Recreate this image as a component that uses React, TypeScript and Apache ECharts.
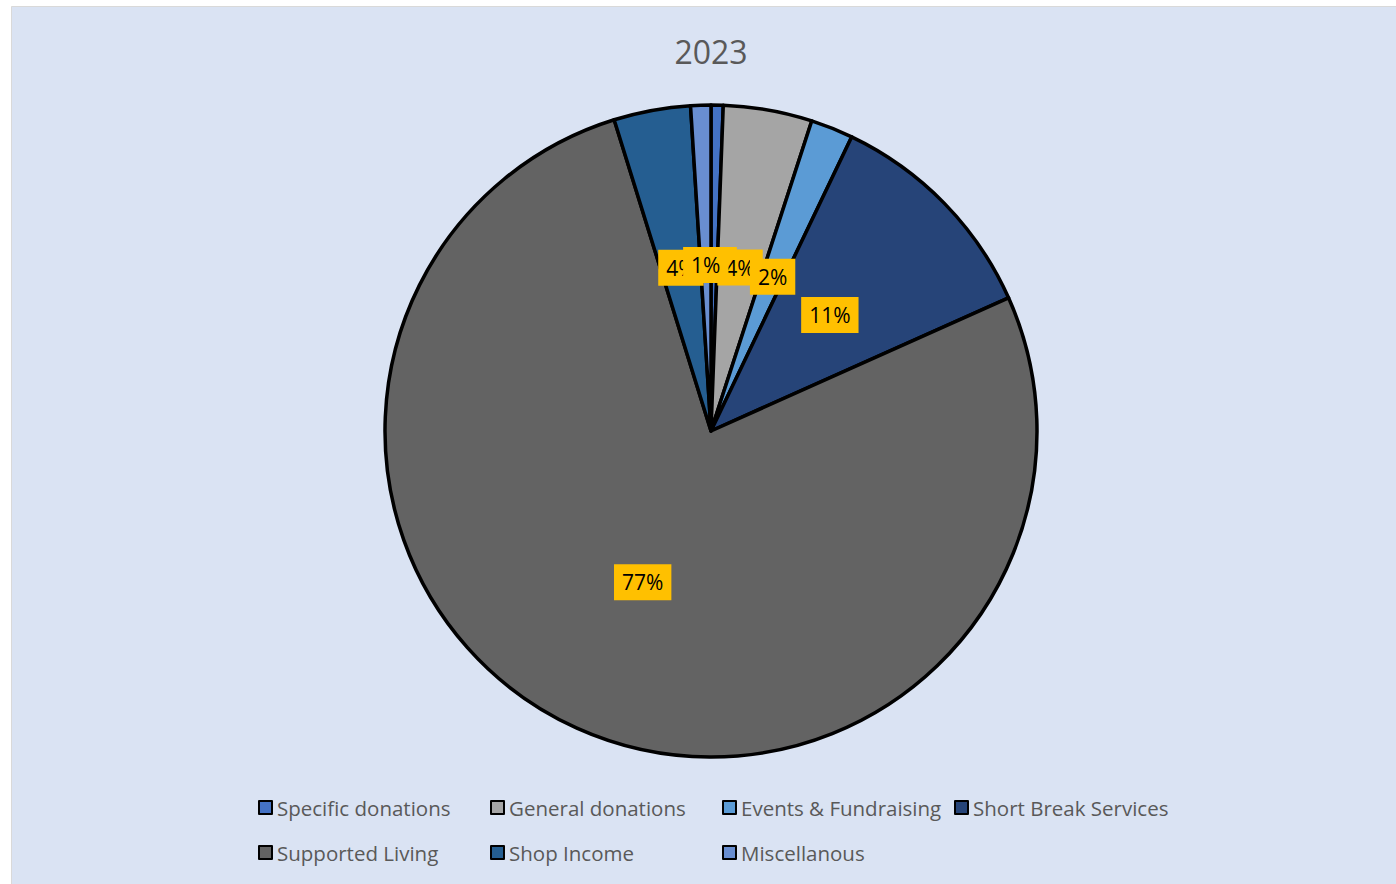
import React, { useEffect, useRef } from "react";
import * as echarts from "echarts";

const categories = [
  "Specific donations",
  "General donations",
  "Events & Fundraising",
  "Short Break Services",
  "Supported Living",
  "Shop Income",
  "Miscellanous",
];
const values = [0.6, 4.4, 2.1, 11.2, 76.9, 3.8, 1.0];
const colors = ["#4472C4", "#A5A5A5", "#5B9BD5", "#264478", "#636363", "#255E91", "#698ED0"];
const title = "2023";

const FONT = "Open Sans";

export default function App() {
  const ref = useRef<HTMLDivElement>(null);
  useEffect(() => {
    if (!ref.current) return;
    const chart = echarts.init(ref.current, undefined, { renderer: "svg" });
    chart.setOption({
      animation: false,
      backgroundColor: "#FFFFFF",
      graphic: [
        {
          type: "rect",
          z: -10,
          shape: { x: 11.5, y: 6.5, width: 1400, height: 900 },
          style: { fill: "#DAE3F3", stroke: "#D9D9D9", lineWidth: 1 },
        },
        {
          type: "text",
          x: 711,
          y: 51,
          style: {
            text: title,
            fontFamily: FONT,
            fontSize: 32,
            fill: "#595959",
            align: "center",
            verticalAlign: "middle",
          },
        },
      ],
      legend: {
        left: 253,
        top: 783,
        width: 940,
        orient: "horizontal",
        itemWidth: 13,
        itemHeight: 13,
        itemGap: 6,
        icon: "rect",
        itemStyle: { borderColor: "#000", borderWidth: 2 },
        textStyle: {
          fontFamily: FONT,
          fontSize: 20.5,
          color: "#595959",
          width: 207,
          lineHeight: 39,
          overflow: "none",
        },
        data: categories,
      },
      series: [
        {
          type: "pie",
          center: [711, 431],
          radius: 326,
          startAngle: 90,
          clockwise: true,
          avoidLabelOverlap: false,
          labelLayout: { hideOverlap: false },
          itemStyle: { borderColor: "#000", borderWidth: 3.5 },
          label: {
            show: true,
            position: "inside",
            formatter: (p: any) => Math.round(p.percent) + "%",
            backgroundColor: "#FFC000",
            padding: [8, 8, 7, 8],
            color: "#000",
            fontFamily: FONT,
            fontSize: 21,
          },
          labelLine: { show: false },
          emphasis: { disabled: true },
          data: categories.map((c, i) => ({
            name: c,
            value: values[i],
            itemStyle: { color: colors[i] },
          })),
        },
      ],
    });
    return () => chart.dispose();
  }, []);
  return (
    <div
      ref={ref}
      style={{ position: "absolute", left: 0, top: 0, width: 1396, height: 884 }}
    />
  );
}
